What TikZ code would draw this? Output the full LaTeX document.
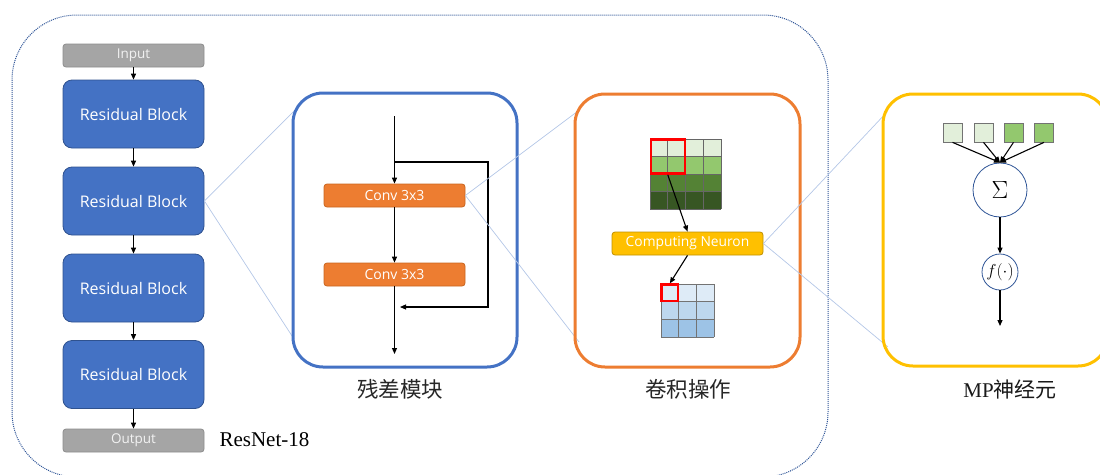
\documentclass[tikz,border=0pt]{standalone}
\usepackage{fontspec}
\newfontfamily\uifont{Open Sans}
\newfontfamily\cjkfont{Noto Sans CJK SC}
\newfontfamily\capfont{Liberation Serif}
\usetikzlibrary{arrows.meta}

\definecolor{blockblue}{HTML}{4472C4}
\definecolor{blockedge}{HTML}{2F528F}
\definecolor{ioGray}{HTML}{A5A5A5}
\definecolor{ioEdge}{HTML}{8C8C8C}
\definecolor{convOrange}{HTML}{ED7D31}
\definecolor{convEdge}{HTML}{C9651F}
\definecolor{neuronGold}{HTML}{FFC000}
\definecolor{neuronEdge}{HTML}{BF9000}
\definecolor{outline}{HTML}{2F5597}
\definecolor{zoomline}{HTML}{B4C7E7}
\definecolor{gA}{HTML}{E2EFDA}
\definecolor{gB}{HTML}{93C86E}
\definecolor{gC}{HTML}{548235}
\definecolor{gD}{HTML}{375623}
\definecolor{bA}{HTML}{DEEBF7}
\definecolor{bB}{HTML}{BDD7EE}
\definecolor{bC}{HTML}{9DC3E6}

\begin{document}
\begin{tikzpicture}[x=1pt,y=-1pt,
  arr/.style={-{Triangle[length=6pt,width=5pt]},line width=1.1pt,black},
  ioBox/.style={rectangle,rounded corners=3pt,fill=ioGray,draw=ioEdge,line width=0.8pt,
    minimum width=141pt,minimum height=23pt,inner sep=0pt,text=white!95!black,
    font=\uifont\fontsize{13.5}{15}\selectfont},
  resBlock/.style={rectangle,rounded corners=9pt,fill=blockblue,draw=blockedge,line width=0.8pt,
    minimum width=141pt,minimum height=68pt,inner sep=0pt,text=white,
    font=\uifont\fontsize{16}{18}\selectfont},
  convBox/.style={rectangle,rounded corners=3pt,fill=convOrange,draw=convEdge,line width=0.8pt,
    minimum width=141pt,minimum height=23pt,inner sep=0pt,text=white,
    font=\uifont\fontsize{14}{16}\selectfont},
  frameBox/.style={rectangle,rounded corners=30pt,line width=3pt,fill=none,inner sep=0pt},
  caption/.style={text=black!85,font=\cjkfont\fontsize{21.5}{24}\selectfont},
  zoomRay/.style={zoomline,line width=0.7pt},
  inputSq/.style={rectangle,draw=black!55,line width=0.7pt,minimum size=19pt,inner sep=0pt},
  unit/.style={circle,draw=outline,line width=0.8pt,fill=white,inner sep=0pt}
]
\clip (0,0) rectangle (1100,474);

% outer dotted frame around the whole network
\draw[outline,line width=1pt,dash pattern=on 1pt off 1pt,rounded corners=65pt]
  (12,15) rectangle (828,477);

% ---------------- ResNet-18 column ----------------
\node[ioBox]    (in)  at (133.5,55.5)  {Input};
\node[resBlock] (rb1) at (133.5,114)   {Residual Block};
\node[resBlock] (rb2) at (133.5,201)   {Residual Block};
\node[resBlock] (rb3) at (133.5,288)   {Residual Block};
\node[resBlock] (rb4) at (133.5,374.5) {Residual Block};
\node[ioBox]    (out) at (133.5,440.5) {Output};
\node[anchor=west,font=\capfont\fontsize{21}{24}\selectfont] (net) at (216,440) {ResNet-18};

\draw[arr] (in)  -- (rb1);
\draw[arr] (rb1) -- (rb2);
\draw[arr] (rb2) -- (rb3);
\draw[arr] (rb3) -- (rb4);
\draw[arr] (rb4) -- (out);

% ---------------- zoom rays ----------------
\coordinate (ra) at (295,110);
\coordinate (rb) at (294,339);
\coordinate (ca) at (578,111);
\coordinate (cb) at (579,342);
\coordinate (ma) at (887,112);
\coordinate (mb) at (888,347);
\draw[zoomRay] (rb2.east) -- (ra);
\draw[zoomRay] (rb2.east) -- (rb);

% ---------------- residual block detail ----------------
\node[frameBox,draw=blockblue,minimum width=224pt,minimum height=274pt] (resframe) at (405,230) {};
\node[caption] (rescap) at (400,389) {残差模块};

\node[convBox] (c1) at (394.5,195.5) {Conv 3x3};
\node[convBox] (c2) at (394.5,274.5) {Conv 3x3};

\coordinate (rtop) at (394.5,116);
\coordinate (rsplit) at (394.5,162);
\coordinate (rskip) at (488,162);
\coordinate (rback) at (488,307);
\coordinate (rjoin) at (400,307);
\coordinate (rend) at (394.5,354);

\draw[arr] (rtop) -- (c1.north);
\draw[arr] (c1) -- (c2);
\draw[arr] (c2.south) -- (rend);
\draw[arr] (rsplit) -- (rskip) -- (rback) -- (rjoin);

\draw[zoomRay] (c1.east) -- (ca);
\draw[zoomRay] (c1.east) -- (cb);

% ---------------- convolution detail ----------------
\node[frameBox,draw=convOrange,minimum width=225pt,minimum height=273pt] (convframe) at (687.5,230.5) {};
\node[caption] (convcap) at (688,389) {卷积操作};

% input feature map, 4x4
\foreach \r/\col in {0/gA,1/gB,2/gC,3/gD}{
  \foreach \c in {0,...,3}{
    \fill[\col] (650+\c*17.75,139+\r*17.5) rectangle ++(17.75,17.5);
  }
}
\foreach \k in {0,...,4}{
  \draw[black!60,line width=0.7pt] (650+\k*17.75,139) -- (650+\k*17.75,209);
  \draw[black!60,line width=0.7pt] (650,139+\k*17.5) -- (721,139+\k*17.5);
}
\node[rectangle,draw=red,line width=2.5pt,minimum width=34pt,minimum height=34pt,inner sep=0pt] (kernel) at (667.75,156.5) {};

% output feature map, 3x3
\foreach \r/\col in {0/bA,1/bB,2/bC}{
  \foreach \c in {0,...,2}{
    \fill[\col] (661+\c*17.7,284+\r*17.7) rectangle ++(17.7,17.7);
  }
}
\foreach \k in {0,...,3}{
  \draw[black!55,line width=0.7pt] (661+\k*17.7,284) -- (661+\k*17.7,337.1);
  \draw[black!55,line width=0.7pt] (661,284+\k*17.7) -- (714.1,284+\k*17.7);
}
\node[rectangle,draw=red,line width=2.5pt,minimum width=16.5pt,minimum height=16.5pt,inner sep=0pt] (outcell) at (669.85,292.85) {};

\node[rectangle,rounded corners=3pt,fill=neuronGold,draw=neuronEdge,line width=0.8pt,
  minimum width=151pt,minimum height=23pt,inner sep=0pt,text=white,
  font=\uifont\fontsize{13.8}{15}\selectfont] (cn) at (687.5,243.5) {Computing Neuron};

\draw[arr] (kernel.south) -- (cn.north);
\draw[arr] (cn.south) -- (outcell.north);

\draw[zoomRay] (cn.east) -- (ma);
\draw[zoomRay] (cn.east) -- (mb);

% ---------------- MP neuron detail ----------------
\node[frameBox,draw=neuronGold,minimum width=225pt,minimum height=272pt] (mpframe) at (995.5,230) {};
\node[font=\fontsize{21}{24}\selectfont,text=black!90] (mpcap) at (1010,390) {\capfont MP\cjkfont 神经元};

\node[inputSq,fill=gA] (x1) at (952.5,132.5) {};
\node[inputSq,fill=gA] (x2) at (983.5,132.5) {};
\node[inputSq,fill=gB] (x3) at (1013.5,132.5) {};
\node[inputSq,fill=gB] (x4) at (1044,132.5) {};

\node[unit,minimum size=54pt,font=\fontsize{26}{28}\selectfont] (sum) at (1000,190) {$\Sigma$};
\node[unit,minimum size=36pt,font=\fontsize{18}{20}\selectfont] (act) at (1000,272) {$f(\cdot)$};
\coordinate (yout) at (1000,326);

\draw[arr] (x1.south) -- (sum.north);
\draw[arr] (x2.south) -- (sum.north);
\draw[arr] (x3.south) -- (sum.north);
\draw[arr] (x4.south) -- (sum.north);
\draw[arr] (sum) -- (act);
\draw[arr] (act.south) -- (yout);
\end{tikzpicture}
\end{document}
